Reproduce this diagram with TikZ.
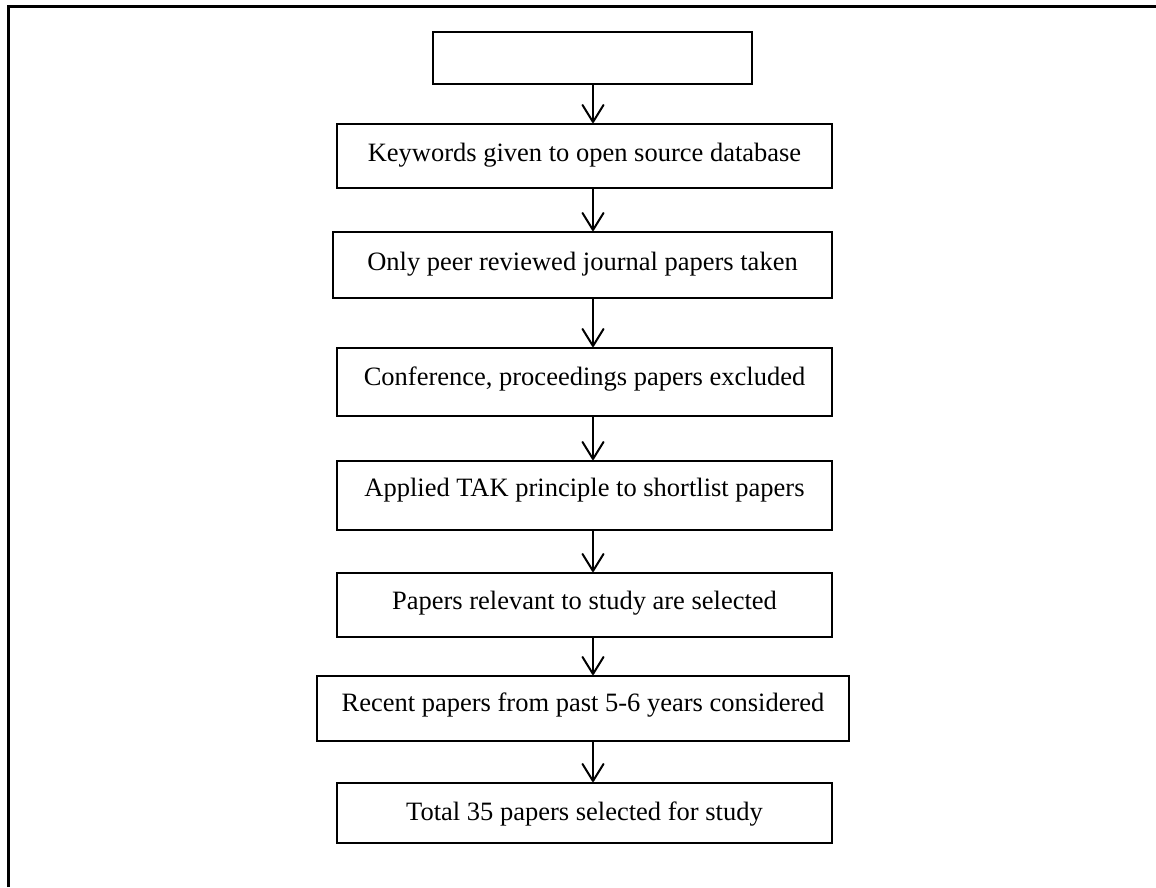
\documentclass[tikz,border=0pt]{standalone}
\usepackage{fontspec}
\setmainfont{Liberation Serif}
\usetikzlibrary{arrows.meta}
\begin{document}
\begin{tikzpicture}[x=1pt,y=-1pt,
  box/.style={draw=black,line width=2pt,rectangle,inner sep=0pt},
  lbl/.style={anchor=base,inner sep=0pt,font=\fontsize{26.5}{31}\selectfont},
  arr/.style={line width=2pt,line cap=round,-{Straight Barb[length=17pt,width=21pt,line width=2pt,round]}}]
\useasboundingbox (0,0) rectangle (1156,887);
\draw[line width=2.2pt] (8.5,887) -- (8.5,6.5) -- (1156,6.5);
\coordinate (ax) at (593,0);
\node[box,line width=1.6pt,minimum width=319pt,minimum height=52pt] (b0) at (592.5,58) {};
\node[box,minimum width=495pt,minimum height=63.5pt] (b1) at (584.5,155.75) {};
\node[box,minimum width=499pt,minimum height=66pt] (b2) at (582.5,265) {};
\node[box,minimum width=495pt,minimum height=68pt] (b3) at (584.5,382) {};
\node[box,minimum width=495pt,minimum height=69pt] (b4) at (584.5,495.5) {};
\node[box,minimum width=495pt,minimum height=64pt] (b5) at (584.5,605) {};
\node[box,minimum width=532pt,minimum height=65pt] (b6) at (583,708.5) {};
\node[box,minimum width=495pt,minimum height=60pt] (b7) at (584.5,813) {};
\node[lbl] (t1) at (584.5,161.5) {Keywords given to open source database};
\node[lbl] (t2) at (582.5,270) {Only peer reviewed journal papers taken};
\node[lbl] (t3) at (584.5,385.5) {Conference, proceedings papers excluded};
\node[lbl] (t4) at (584.5,496.5) {Applied TAK principle to shortlist papers};
\node[lbl] (t5) at (584.5,609) {Papers relevant to study are selected};
\node[lbl] (t6) at (583,711.5) {Recent papers from past 5-6 years considered};
\node[lbl] (t7) at (584.5,820.5) {Total 35 papers selected for study};
\draw[arr] (b0.south -| ax) -- (b1.north -| ax);
\draw[arr] (b1.south -| ax) -- (b2.north -| ax);
\draw[arr] (b2.south -| ax) -- (b3.north -| ax);
\draw[arr] (b3.south -| ax) -- (b4.north -| ax);
\draw[arr] (b4.south -| ax) -- (b5.north -| ax);
\draw[arr] (b5.south -| ax) -- (b6.north -| ax);
\draw[arr] (b6.south -| ax) -- (b7.north -| ax);
\end{tikzpicture}
\end{document}
